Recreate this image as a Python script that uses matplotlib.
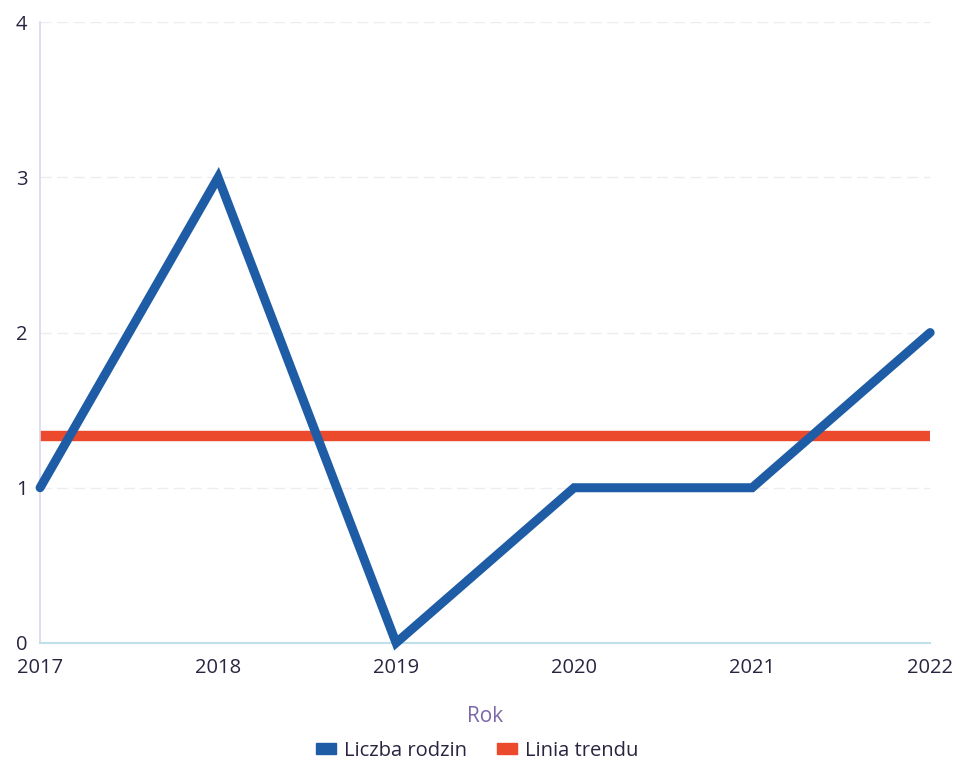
import matplotlib
matplotlib.use("Agg")
import matplotlib.pyplot as plt
from matplotlib.patches import Patch

years = [2017, 2018, 2019, 2020, 2021, 2022]
families = [1, 3, 0, 1, 1, 2]
trend = [sum(families) / len(families)] * len(years)
yticks = [0, 1, 2, 3, 4]

plt.rcParams['font.family'] = ['Open Sans', 'DejaVu Sans']

fig = plt.figure(figsize=(9.54, 7.69), dpi=100)
ax = fig.add_axes([0.042, 0.164, 0.933, 0.807])

blue = '#1f5ca6'
red = '#ec4a2c'
ax.plot(years, families, color=blue, lw=6.5, solid_joinstyle='miter', solid_capstyle='round',
        zorder=3, clip_on=False)
ax.plot(years, trend, color=red, lw=7.5, solid_capstyle='butt', zorder=2, clip_on=False)

ax.set_xlim(2017, 2022)
ax.set_ylim(0, 4)
ax.set_xticks(years)
ax.set_yticks(yticks)
ax.grid(axis='y', color='#ececf2', lw=1, linestyle=(0, (8, 4)))
ax.set_axisbelow(True)
for s in ['top', 'right']:
    ax.spines[s].set_visible(False)
ax.spines['left'].set_color('#d8d8ec')
ax.spines['bottom'].set_color('#bfe0ea')
ax.spines['left'].set_linewidth(1.2)
ax.spines['bottom'].set_linewidth(1.5)
ax.tick_params(length=0, labelsize=14.5, colors='#2a2440')
ax.tick_params(axis='x', pad=11)
ax.tick_params(axis='y', pad=9)
ax.set_xlabel('Rok', fontsize=15, color='#7a68a8', labelpad=20)

handles = [Patch(color=blue, label='Liczba rodzin'), Patch(color=red, label='Linia trendu')]
fig.legend(handles=handles, loc='lower center', bbox_to_anchor=(0.5, -0.013), ncol=2, frameon=False,
           fontsize=14.5, handlelength=1.0, handleheight=0.5, handletextpad=0.4, columnspacing=1.5,
           labelcolor='#2a2440')

fig.savefig('out.png', dpi=100)
